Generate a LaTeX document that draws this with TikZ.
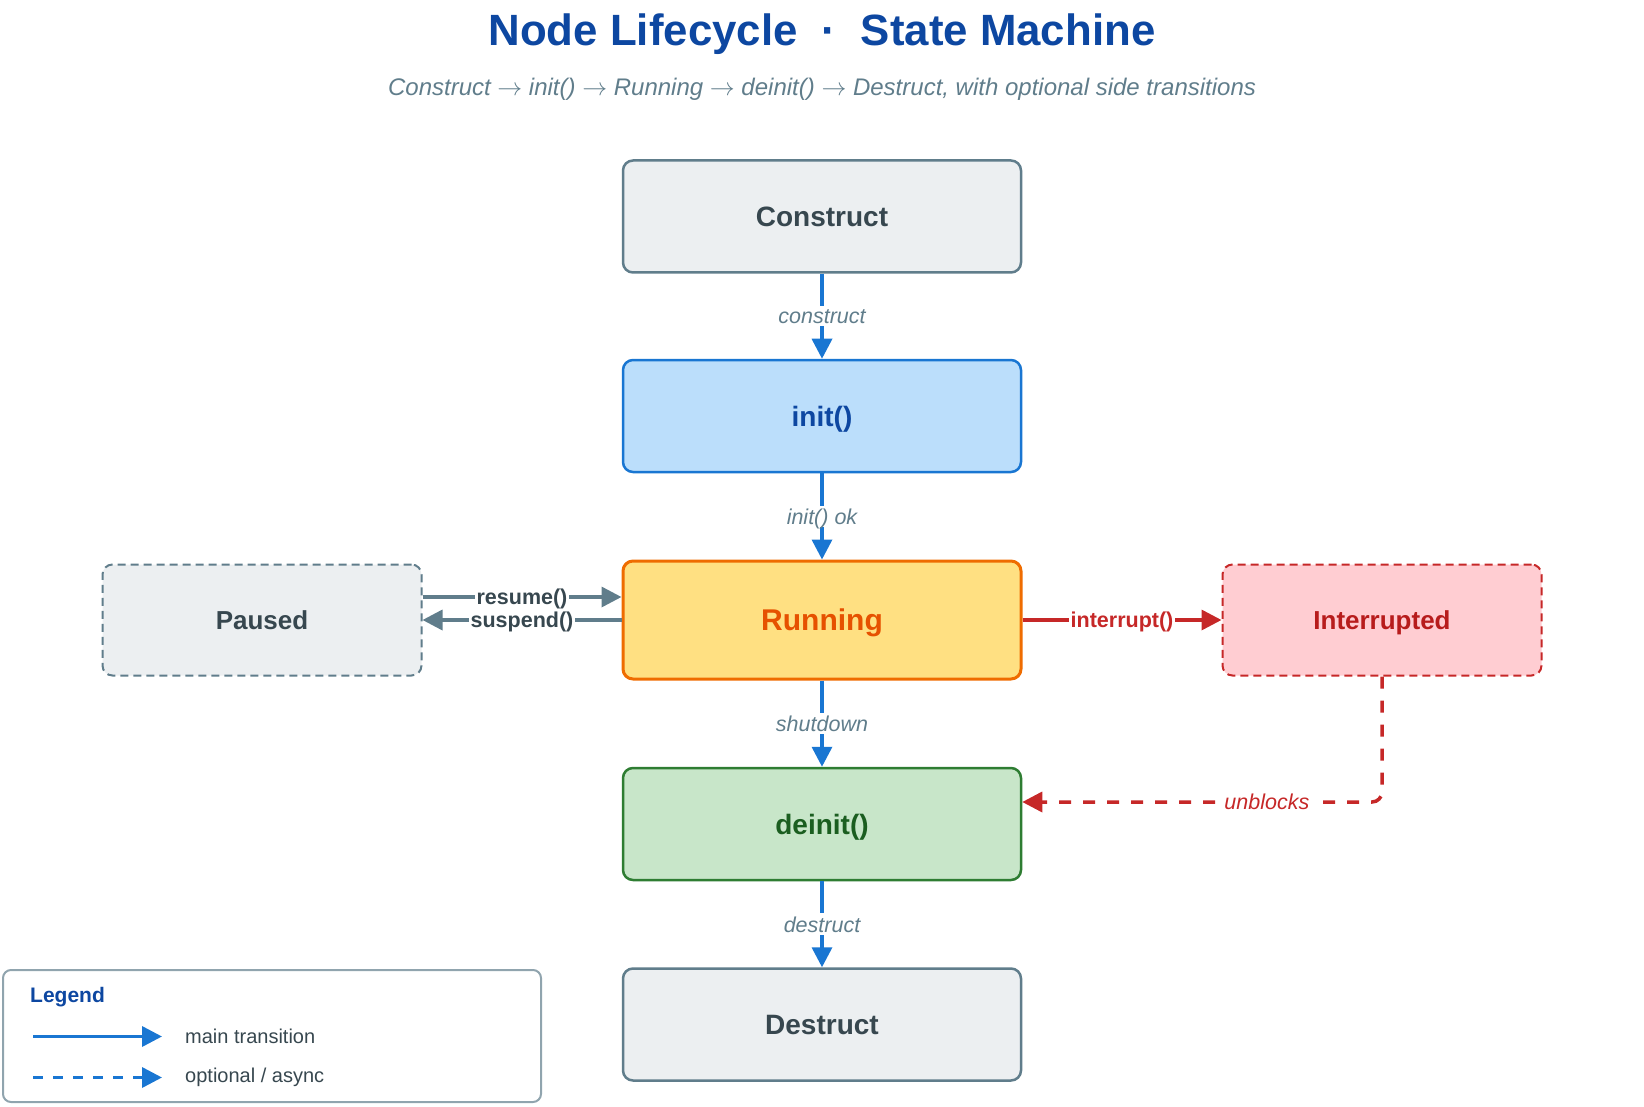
\documentclass[tikz,border=0pt]{standalone}
\usepackage{fontspec}
\setmainfont{Liberation Sans}
\usetikzlibrary{arrows.meta}
\definecolor{slate}{HTML}{607D8B}
\definecolor{darkslate}{HTML}{37474F}
\definecolor{mainblue}{HTML}{1976D2}
\definecolor{deepblue}{HTML}{0D47A1}
\definecolor{lightgrayfill}{HTML}{ECEFF1}
\definecolor{lightbluefill}{HTML}{BBDEFB}
\definecolor{amberfill}{HTML}{FFE082}
\definecolor{orangeline}{HTML}{EF6C00}
\definecolor{orangetext}{HTML}{E65100}
\definecolor{greenline}{HTML}{2E7D32}
\definecolor{greenfill}{HTML}{C8E6C9}
\definecolor{greentext}{HTML}{1B5E20}
\definecolor{redline}{HTML}{C62828}
\definecolor{pinkfill}{HTML}{FFCDD2}
\definecolor{redtext}{HTML}{B71C1C}
\definecolor{legendline}{HTML}{90A4AE}
\newcommand{\subarrow}{ $\rightarrow$ }
\begin{document}
\begin{tikzpicture}[x=1pt,y=-1pt,
  statebox/.style={rounded corners=10pt, minimum width=398pt, minimum height=112pt,
    line width=2.5pt, inner sep=0pt, align=center, text depth=0pt,
    font=\fontsize{28}{34}\selectfont\bfseries},
  sidebox/.style={rounded corners=10pt, minimum width=319pt, minimum height=111pt,
    line width=2pt, inner sep=0pt, dash pattern=on 8pt off 5pt, text depth=0pt,
    font=\fontsize{26}{31}\selectfont\bfseries},
  tip/.style={-{Triangle[length=20pt,width=20pt]}},
  mainarrow/.style={tip, draw=mainblue, line width=3.5pt},
  grayarrow/.style={tip, draw=slate, line width=3.5pt},
  redarrow/.style={tip, draw=redline, line width=3.5pt},
  elabel/.style={fill=white, inner sep=3pt, text=slate, text depth=0pt,
    font=\fontsize{21.5}{26}\selectfont\itshape},
  slabel/.style={fill=white, inner sep=2pt, text=darkslate, text depth=0pt,
    font=\fontsize{21.5}{26}\selectfont\bfseries},
  legtext/.style={anchor=west, inner sep=0pt, text=darkslate,
    font=\fontsize{20}{24}\selectfont}
]
\useasboundingbox (0,0) rectangle (1644,1107);

% title
\node[text=deepblue, font=\fontsize{43.8}{52}\selectfont\bfseries] (title) at (822,34.5)
  {Node Lifecycle~~·~~State Machine};
\node[text=slate, font=\fontsize{24}{29}\selectfont\itshape] (subtitle) at (822,89)
  {Construct\subarrow init()\subarrow Running\subarrow deinit()\subarrow Destruct, with optional side transitions};

% states
\node[statebox, draw=slate, fill=lightgrayfill, text=darkslate] (construct) at (822,216.5) {Construct};
\node[statebox, draw=mainblue, fill=lightbluefill, text=deepblue] (init) at (822,416) {init()};
\node[statebox, draw=orangeline, fill=amberfill, text=orangetext, line width=3pt,
  minimum height=118pt, font=\fontsize{30}{36}\selectfont\bfseries] (running) at (822,620) {Running};
\node[statebox, draw=greenline, fill=greenfill, text=greentext] (deinit) at (822,824) {deinit()};
\node[statebox, draw=slate, fill=lightgrayfill, text=darkslate] (destruct) at (822,1024.5) {Destruct};
\node[sidebox, draw=slate, fill=lightgrayfill, text=darkslate] (paused) at (262,620) {Paused};
\node[sidebox, draw=redline, fill=pinkfill, text=redtext] (interrupted) at (1382,620) {Interrupted};

% main transitions
\draw[mainarrow] (construct.south) -- node[elabel]{construct} (init.north);
\draw[mainarrow] (init.south) -- node[elabel]{init() ok} (running.north);
\draw[mainarrow] (running.south) -- node[elabel]{shutdown} (deinit.north);
\draw[mainarrow] (deinit.south) -- node[elabel]{destruct} (destruct.north);

% side transitions
\draw[grayarrow] ([yshift=23pt]paused.east) -- node[slabel]{resume()} ([yshift=23pt]running.west);
\draw[grayarrow] (running.west) -- node[slabel]{suspend()} (paused.east);
\draw[redarrow] (running.east) -- node[slabel, text=redline]{interrupt()} (interrupted.west);
\draw[redarrow, dash pattern=on 12pt off 12pt, rounded corners=10pt]
  (interrupted.south) |- node[pos=0.66, elabel, text=redline]{unblocks} ([yshift=22pt]deinit.east);

% legend
\node[draw=legendline, line width=2pt, rounded corners=8pt, minimum width=538pt,
  minimum height=132pt, inner sep=0pt] (legend) at (272,1036) {};
\node[anchor=west, inner sep=0pt, text=deepblue, font=\fontsize{21}{25}\selectfont\bfseries]
  (legendtitle) at (30,997) {Legend};
\coordinate (la) at (33,1036.5);
\coordinate (lb) at (162,1036.5);
\coordinate (lc) at (33,1077.5);
\coordinate (ld) at (162,1077.5);
\draw[mainarrow] (la) -- (lb);
\draw[mainarrow, dash pattern=on 10pt off 10pt] (lc) -- (ld);
\node[legtext] (legmain) at (185,1036.5) {main transition};
\node[legtext] (legopt) at (185,1077.5) {optional / async};
\end{tikzpicture}
\end{document}
